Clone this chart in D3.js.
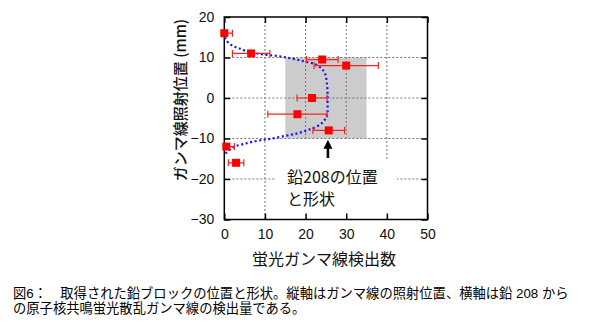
<!DOCTYPE html>
<html><head><meta charset="utf-8">
<script src="https://cdn.jsdelivr.net/npm/d3@7"></script>
<style>body{margin:0;background:#fff}svg{display:block}</style>
</head><body><svg id="c" width="589" height="325"></svg>
<script>
// ---- data ----
const xTicks = [0, 10, 20, 30, 40, 50];
const yTicks = [-30, -20, -10, 0, 10, 20];
const pointX   = [0, 6.6, 24.1, 30, 21.6, 18, 25.7, 0.5, 2.9];
const pointY   = [16, 11, 9.5, 8, 0, -4, -8, -12, -16];
const pointErr = [2, 4.6, 3.9, 7.9, 3.7, 7.3, 3.9, 2, 1.9];
const curveX = [0.2, 0.5, 1.6, 2.7, 3.8, 5, 7.5, 9.9, 12.8, 15.2, 17.7, 20.2, 22.5, 23.9, 24.8, 25.2, 25.4, 25.4, 25.4, 25.1, 24.3, 23, 20.6, 18.1, 14.8, 11.5, 9.1, 6.6, 4.6, 2.5, 1.3, 0.5, 0.2];
const curveY = [15, 14.2, 13.2, 12.6, 12.2, 11.7, 11.1, 10.7, 10.4, 10.0, 9.5, 8.9, 8.3, 7.3, 6.0, 4, 1.5, -1, -3.5, -4.8, -5.9, -6.9, -7.9, -8.7, -9.4, -10.05, -10.4, -10.9, -11.4, -12, -12.8, -13.5, -14];
const boxX = [15, 35];
const boxY = [-10, 10];
const arrowX = 25.5;
const arrowY = [-14.8, -10.3];
const annotLines = ["鉛208の位置", "と形状"];
const xLabel = "蛍光ガンマ線検出数";
const yLabel = "ガンマ線照射位置 (mm)";
const caption = ["図6：　取得された鉛ブロックの位置と形状。縦軸はガンマ線の照射位置、横軸は鉛 208 から",
                 "の原子核共鳴蛍光散乱ガンマ線の検出量である。"];

// ---- layout ----
const L = 224.3, R = 427.5, T = 17, B = 219.5;
const x = d3.scaleLinear().domain([0, 50]).range([L, R]);
const y = d3.scaleLinear().domain([-30, 20]).range([B, T]);
const svg = d3.select("#c");
const CJK = "'Noto Sans CJK JP','Noto Sans',sans-serif";
const LAT = "'Liberation Sans',Arial,sans-serif";

svg.append("rect").attr("width", 589).attr("height", 325).attr("fill", "#fff");

svg.append("defs").append("clipPath").attr("id", "clip")
  .append("rect").attr("x", L).attr("y", T).attr("width", R - L).attr("height", B - T);

// gray box
svg.append("rect")
  .attr("x", x(boxX[0])).attr("y", y(boxY[1]))
  .attr("width", x(boxX[1]) - x(boxX[0])).attr("height", y(boxY[0]) - y(boxY[1]))
  .attr("fill", "#cccccc");

// gridlines
const grid = svg.append("g").attr("stroke", "#777").attr("stroke-width", 1).attr("stroke-dasharray", "2,2");
grid.selectAll(".gx").data(xTicks.slice(1, -1)).join("line")
  .attr("x1", d => x(d)).attr("x2", d => x(d)).attr("y1", T).attr("y2", B);
grid.selectAll(".gy").data(yTicks.slice(1, -1)).join("line")
  .attr("y1", d => y(d)).attr("y2", d => y(d)).attr("x1", L).attr("x2", R);

// white annotation background
svg.append("rect").attr("x", 275).attr("y", 160).attr("width", 122).attr("height", B - 160 - 1).attr("fill", "#fff");
svg.append("rect").attr("x", 300).attr("y", y(-10) + 1).attr("width", 60).attr("height", 25).attr("fill", "#fff");

// axes (inward ticks on all four sides)
const tick = 6;
const axB = d3.axisBottom(x).tickValues(xTicks).tickSizeInner(-tick).tickSizeOuter(0).tickPadding(10);
const axT = d3.axisTop(x).tickValues(xTicks).tickSizeInner(-tick).tickSizeOuter(0).tickFormat("");
const axL = d3.axisLeft(y).tickValues(yTicks).tickSizeInner(-tick).tickSizeOuter(0).tickPadding(10);
const axR = d3.axisRight(y).tickValues(yTicks).tickSizeInner(-tick).tickSizeOuter(0).tickFormat("");
function styleAx(g) {
  g.select(".domain").remove();
  g.selectAll("line").attr("stroke", "#000").attr("stroke-width", 1.5);
  g.selectAll("text").attr("font-family", LAT).attr("font-size", 14).attr("fill", "#111");
}
svg.append("g").attr("transform", `translate(0,${B})`).call(axB).call(styleAx);
svg.append("g").attr("transform", `translate(0,${T})`).call(axT).call(styleAx);
svg.append("g").attr("transform", `translate(${L},0)`).call(axL).call(styleAx);
svg.append("g").attr("transform", `translate(${R},0)`).call(axR).call(styleAx);
svg.append("rect").attr("x", L).attr("y", T).attr("width", R - L).attr("height", B - T)
  .attr("fill", "none").attr("stroke", "#000").attr("stroke-width", 1.5);

// blue dotted curve
const curvePts = curveX.map((v, i) => [v, curveY[i]]);
svg.append("path").datum(curvePts)
  .attr("d", d3.line().x(d => x(d[0])).y(d => y(d[1])).curve(d3.curveCatmullRom.alpha(0.5)))
  .attr("fill", "none").attr("stroke", "#1010ff").attr("stroke-width", 2.2)
  .attr("stroke-dasharray", "2,2.6");

// error bars
const pts = pointX.map((v, i) => ({x: v, y: pointY[i], e: pointErr[i]}));
const eb = svg.append("g").attr("clip-path", "url(#clip)").attr("stroke", "#ff2020").attr("stroke-width", 1.2);
pts.forEach(p => {
  const yy = y(p.y);
  eb.append("line").attr("x1", x(p.x - p.e)).attr("x2", x(p.x + p.e)).attr("y1", yy).attr("y2", yy);
  [p.x - p.e, p.x + p.e].forEach(v => {
    eb.append("line").attr("x1", x(v)).attr("x2", x(v)).attr("y1", yy - 3.5).attr("y2", yy + 3.5);
  });
});
// markers
const ms = 8;
svg.append("g").selectAll("rect").data(pts).join("rect")
  .attr("x", d => x(d.x) - ms / 2).attr("y", d => y(d.y) - ms / 2)
  .attr("width", ms).attr("height", ms).attr("fill", "#ff0000");

// arrow
const ax0 = x(arrowX);
svg.append("line").attr("x1", ax0).attr("x2", ax0).attr("y1", y(arrowY[0])).attr("y2", y(arrowY[1]) + 6)
  .attr("stroke", "#000").attr("stroke-width", 2.6);
const tipY = y(arrowY[1]);
svg.append("path").attr("d", `M${ax0},${tipY} L${ax0 - 4.5},${tipY + 9} L${ax0 + 4.5},${tipY + 9} Z`).attr("fill", "#000");

// annotation text (one block, two lines)
const at = svg.append("text").attr("font-family", CJK).attr("font-size", 16).attr("fill", "#111");
at.selectAll("tspan").data(annotLines).join("tspan")
  .attr("x", 287).attr("y", (d, i) => 183 + i * 22).text(d => d);

// axis labels
svg.append("text").attr("x", (L + R) / 2 - 2).attr("y", 265).attr("text-anchor", "middle")
  .attr("font-family", CJK).attr("font-size", 16).attr("fill", "#111").text(xLabel);
svg.append("text").attr("transform", "translate(179,100) rotate(-90)").attr("text-anchor", "middle")
  .attr("dominant-baseline", "central")
  .attr("font-family", CJK).attr("font-size", 15).attr("font-weight", 500).attr("fill", "#111").text(yLabel);

// caption (two lines)
svg.append("g").selectAll("text").data(caption).join("text")
  .attr("x", 13).attr("y", (d, i) => 297.5 + i * 15.5)
  .attr("font-family", "'Liberation Sans','Noto Sans CJK JP',sans-serif")
  .attr("font-size", 13.3).attr("fill", "#000").text(d => d);
</script></body></html>
